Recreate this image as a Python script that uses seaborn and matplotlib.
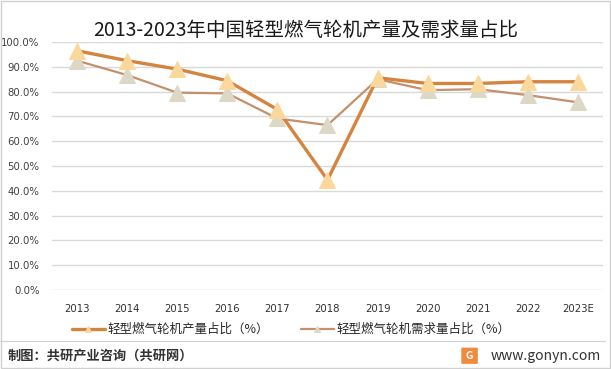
import pandas as pd
import seaborn as sns
import matplotlib.pyplot as plt
from matplotlib.patches import Rectangle, FancyBboxPatch
from matplotlib.lines import Line2D

years = ["2013", "2014", "2015", "2016", "2017", "2018", "2019", "2020", "2021", "2022", "2023E"]
chanliang = [0.965, 0.925, 0.891, 0.844, 0.728, 0.444, 0.856, 0.833, 0.833, 0.840, 0.840]
xuqiu = [0.925, 0.867, 0.796, 0.793, 0.692, 0.665, 0.850, 0.806, 0.810, 0.786, 0.757]
label_1 = "轻型燃气轮机产量占比（%）"
label_2 = "轻型燃气轮机需求量占比（%）"
title = "2013-2023年中国轻型燃气轮机产量及需求量占比"

sns.set_style("white")
plt.rcParams["font.family"] = ["Noto Sans CJK SC", "DejaVu Sans"]

fig = plt.figure(figsize=(6.11, 3.69), dpi=100)
ax = fig.add_axes([0.085, 0.214, 0.902, 0.672])

data = pd.DataFrame({"year": years, "c": chanliang, "x": xuqiu})

# demand line first, production on top
sns.lineplot(data=data, x="year", y="x", ax=ax, color="#C3906C", linewidth=1.6,
             marker="^", markersize=11, markerfacecolor="#DDD8C6", markeredgecolor="#DDD8C6",
             sort=False, label=label_2, zorder=3)
sns.lineplot(data=data, x="year", y="c", ax=ax, color="#D5843F", linewidth=2.4,
             marker="^", markersize=11, markerfacecolor="#FAD89C", markeredgecolor="#FAD89C",
             sort=False, label=label_1, zorder=4)

ax.set_ylim(0, 1.0)
ax.set_xlim(-0.5, len(years) - 0.5)
ax.set_yticks([i / 10 for i in range(11)])
ax.set_yticklabels([f"{i * 10:.1f}%" for i in range(11)], fontsize=7.3, color="#404040",
                   family=["DejaVu Sans"])
ax.set_xticks(range(len(years)))
ax.set_xticklabels(years, fontsize=7.3, color="#303030", family=["DejaVu Sans"])
ax.tick_params(axis="both", length=0)
ax.tick_params(axis="x", pad=10)
ax.tick_params(axis="y", pad=9)
ax.grid(axis="y", color="#D9D9D9", linewidth=1)
ax.set_axisbelow(True)
for s in ax.spines.values():
    s.set_visible(False)
ax.set_xlabel("")
ax.set_ylabel("")

h, l = ax.get_legend_handles_labels()
order = [l.index(label_1), l.index(label_2)]
ax.legend([h[i] for i in order], [l[i] for i in order], loc="center",
          bbox_to_anchor=(0.434, -0.16), ncol=2, frameon=False, fontsize=9,
          handlelength=2.6, columnspacing=2.6, markerscale=0.45, handletextpad=0.2)

fig.text(0.5, 0.918, title, ha="center", va="center", fontsize=14, color="#1A1A1A")

# footer
fig.add_artist(Line2D([0.0, 0.99], [0.077, 0.077], color="#D0D0D0", linewidth=0.8))
fig.text(0.012, 0.036, "制图：共研产业咨询（共研网）", ha="left", va="center",
         fontsize=9.5, color="#333333", fontweight="bold")
fig.text(0.983, 0.036, "www.gonyn.com", ha="right", va="center", fontsize=10, color="#333333")
fig.add_artist(FancyBboxPatch((0.757, 0.016), 0.023, 0.04, boxstyle="round,pad=0.002",
                              facecolor="#F08A3C", edgecolor="none", transform=fig.transFigure))
fig.text(0.7685, 0.036, "G", ha="center", va="center", fontsize=7.5, color="white", fontweight="bold")

fig.add_artist(Rectangle((0.001, 0.002), 0.997, 0.995, transform=fig.transFigure,
                         fill=False, edgecolor="#D0D0D0", linewidth=1))

plt.savefig("out.png", dpi=100)
